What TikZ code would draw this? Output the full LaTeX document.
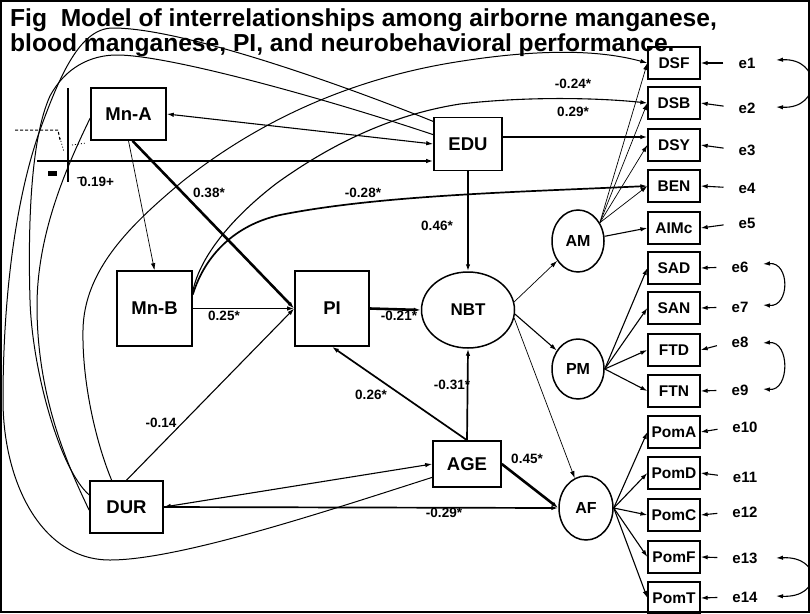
\documentclass[tikz,border=0pt]{standalone}
\usepackage{fontspec}
\setmainfont{Liberation Sans}
\usetikzlibrary{arrows.meta,shapes.geometric}
\begin{document}
\begin{tikzpicture}[x=1pt,y=-1pt,
  box/.style={draw,line width=1.6pt,inner sep=0pt,font=\fontsize{18.5}{18.5}\selectfont\bfseries},
  ind/.style={draw,line width=1.3pt,minimum width=52pt,minimum height=32pt,inner sep=0pt,font=\fontsize{15.5}{15.5}\selectfont\bfseries},
  lat/.style={draw,ellipse,line width=1.5pt,inner sep=0pt,font=\fontsize{16}{16}\selectfont\bfseries},
  coef/.style={font=\fontsize{13.5}{13.5}\selectfont\bfseries,inner sep=0pt},
  elab/.style={font=\fontsize{15}{15}\selectfont\bfseries,inner sep=1pt},
  ttl/.style={font=\fontsize{24.6}{24.6}\selectfont\bfseries,inner sep=0pt,anchor=base west},
  arr/.style={-{Latex[length=7pt,width=4.5pt]}},
  darr/.style={{Latex[length=7pt,width=4.5pt]}-{Latex[length=7pt,width=4.5pt]}},
  lwa/.style={line width=0.7pt},
  lwb/.style={line width=1.1pt},
  lwc/.style={line width=1.7pt},
  lwd/.style={line width=2.6pt},
  crv/.style={line width=1pt},
]
\useasboundingbox (0,0) rectangle (810,613);
\draw[line width=1.2pt] (1,1) rectangle (809,612);

% title
\node[ttl] (t1) at (10,27) {Fig\ \ Model of interrelationships among airborne manganese,};
\node[ttl] (t2) at (10,51) {blood manganese, PI, and neurobehavioral performance.};

% main boxes
\node[box,minimum width=75pt,minimum height=52pt] (MnA) at (128.5,114) {Mn-A};
\node[box,minimum width=68pt,minimum height=53pt] (EDU) at (468,144) {EDU};
\node[box,minimum width=75pt,minimum height=75pt] (MnB) at (154.5,308.5) {Mn-B};
\node[box,minimum width=74pt,minimum height=75pt] (PI) at (332,308.5) {PI};
\node[box,minimum width=68pt,minimum height=46pt] (AGE) at (467,464) {AGE};
\node[box,minimum width=73pt,minimum height=52pt] (DUR) at (126.5,507) {DUR};

% latent variables
\node[lat,minimum width=93pt,minimum height=76pt,font=\fontsize{17}{17}\selectfont\bfseries] (NBT) at (468,310) {NBT};
\node[lat,minimum width=52pt,minimum height=62pt] (AM) at (578,241) {AM};
\node[lat,minimum width=52pt,minimum height=60pt] (PM) at (578,369) {PM};
\node[lat,minimum width=54pt,minimum height=64pt] (AF) at (586,508) {AF};

% indicators
\node[ind] (DSF) at (674,63) {DSF};
\node[ind] (DSB) at (674,103) {DSB};
\node[ind] (DSY) at (674,145) {DSY};
\node[ind] (BEN) at (674,186) {BEN};
\node[ind] (AIMc) at (674,228) {AIMc};
\node[ind] (SAD) at (674,268) {SAD};
\node[ind] (SAN) at (674,308) {SAN};
\node[ind] (FTD) at (674,350) {FTD};
\node[ind] (FTN) at (674,391) {FTN};
\node[ind] (PomA) at (674,432) {PomA};
\node[ind] (PomD) at (674,473) {PomD};
\node[ind] (PomC) at (674,515) {PomC};
\node[ind] (PomF) at (674,557) {PomF};
\node[ind] (PomT) at (674,598) {PomT};

% error terms
\node[elab] (e1) at (747,63) {e1};
\node[elab] (e2) at (747,108) {e2};
\node[elab] (e3) at (747,150) {e3};
\node[elab] (e4) at (747,188) {e4};
\node[elab] (e5) at (747,223) {e5};
\node[elab] (e6) at (740,267) {e6};
\node[elab] (e7) at (740,307) {e7};
\node[elab] (e8) at (740,342) {e8};
\node[elab] (e9) at (740,390) {e9};
\node[elab] (e10) at (745,427) {e10};
\node[elab] (e11) at (745,477) {e11};
\node[elab] (e12) at (745,512) {e12};
\node[elab] (e13) at (745,558) {e13};
\node[elab] (e14) at (745,597) {e14};

\foreach \e/\b in {e1/DSF,e2/DSB,e3/DSY,e4/BEN,e5/AIMc,e6/SAD,e7/SAN,e8/FTD,e9/FTN,e10/PomA,e11/PomD,e12/PomC,e13/PomF,e14/PomT}
  \draw[arr,lwb,shorten <=14pt] (\e.west) -- (\b.east);

% error covariances
\coordinate (k1) at (776,60); \coordinate (k2) at (776,107);
\coordinate (k6) at (763,264); \coordinate (k7) at (763,305);
\coordinate (k8) at (763,343); \coordinate (k9) at (763,389);
\coordinate (k13) at (776,558); \coordinate (k14) at (776,596);
\draw[darr,lwb] (k1) .. controls (822,58) and (822,109) .. (k2);
\draw[darr,lwb] (k6) .. controls (790,262) and (790,307) .. (k7);
\draw[darr,lwb] (k8) .. controls (790,341) and (790,391) .. (k9);
\draw[darr,lwb] (k13) .. controls (822,556) and (822,598) .. (k14);

% measurement paths
\foreach \b in {DSF,DSB,DSY,BEN} \draw[arr,lwa] (AM.40) -- (\b.west);
\draw[arr,lwb] (AM.10) -- (AIMc.west);
\foreach \b in {SAD,SAN,FTD,FTN} \draw[arr,lwb] (PM.east) -- (\b.west);
\foreach \b in {PomA,PomD,PomC,PomF,PomT} \draw[arr,lwb] (AF.east) -- (\b.west);

% NBT to factors
\draw[arr,lwa] (NBT.10) -- (AM);
\draw[arr,lwb] (NBT.355) -- (PM);
\draw[arr,lwa] (NBT.350) -- (AF);

% structural paths
\draw[arr,lwa] (MnA.south) -- (MnB.north);
\draw[arr,lwd] ([xshift=4pt]MnA.south) -- (PI.west);
\draw[arr,lwc] (MnB.east) -- (PI.west);
\draw[arr,lwb] (DUR.north) -- (PI.west);
\draw[arr,lwd] (PI.east) -- (NBT.west);
\draw[arr,lwd] (EDU.south) -- (NBT.north);
\draw[arr,lwc] (AGE.north) -- (NBT.south);
\draw[arr,lwc] (AGE.north) -- (PI.south);
\draw[arr,lwd] (AGE.east) -- (AF.west);
\draw[arr,lwc] (DUR.east) -- (AF.west);
\draw[darr,lwb] (DUR.east) -- (AGE.west);
\draw[darr,lwb] (MnA.east) -- (EDU.west);
\draw[arr,lwc] (EDU.east |- DSY.west) ++(0,-8) -- (DSY.west |- 0,137);

% horizontal line to EDU and scan artefacts
\coordinate (hl) at (37,161);
\draw[arr,lwc] (hl) -- (hl -| EDU.west);
\draw[line width=2.2pt] (68,88) -- (68,182);
\draw[line width=1pt,dash pattern=on 3pt off 2pt] (15,130) -- (58,130) -- (60,140);
\draw[line width=0.8pt,dash pattern=on 1pt off 2pt] (60,138) -- (64,152);
\draw[line width=0.8pt,dash pattern=on 1pt off 2pt] (72,145) -- (86,143);
\fill (48,171) rectangle (57,176);
\draw[line width=1pt] (77,178) -- (84,177);

% curved paths to indicators
\draw[arr,crv] (DUR.119) .. controls (95,440) and (82,380) .. (83,330)
  .. controls (84,270) and (130,225) .. (183,181)
  .. controls (260,120) and (350,80) .. (450,63)
  .. controls (540,48) and (600,50) .. (DSF.west);
\draw[arr,lwb] (MnB.24) .. controls (200,255) and (235,215) .. (277,183)
  .. controls (330,145) and (390,115) .. (460,104)
  .. controls (530,96) and (600,98) .. (DSB.west);
\draw[arr,lwc] (MnB.20) .. controls (205,255) and (235,225) .. (280,215)
  .. controls (380,195) and (520,192) .. (BEN.west);

% covariance curves among exogenous variables
\draw[crv] (AGE.201) .. controls (330,510) and (180,560) .. (110,560)
  .. controls (40,560) and (3,480) .. (3,400)
  .. controls (3,300) and (15,200) .. (40,130)
  .. controls (60,75) and (80,28) .. (113,28)
  .. controls (180,28) and (330,80) .. (EDU.147);
\draw[crv] (DUR.162) .. controls (60,470) and (32,370) .. (30,300)
  .. controls (28,230) and (30,140) .. (50,96)
  .. controls (65,68) and (90,55) .. (117,55)
  .. controls (170,55) and (330,100) .. (EDU.165);
\draw[crv] (MnA.186) .. controls (70,160) and (37,230) .. (37,306)
  .. controls (37,400) and (70,470) .. (DUR.185);

% coefficients
\node[coef] (c1) at (97,182) {0.19+};
\node[coef] (c2) at (209,193) {0.38*};
\node[coef] (c3) at (363,193) {-0.28*};
\node[coef] (c4) at (573,84) {-0.24*};
\node[coef] (c5) at (573,112) {0.29*};
\node[coef] (c6) at (437,226) {0.46*};
\node[coef] (c7) at (224,316) {0.25*};
\node[coef] (c8) at (399,316) {-0.21*};
\node[coef] (c9) at (371,395) {0.26*};
\node[coef] (c10) at (452,385) {-0.31*};
\node[coef] (c11) at (161,423) {-0.14};
\node[coef] (c12) at (527,459) {0.45*};
\node[coef] (c13) at (444,513) {-0.29*};
\end{tikzpicture}
\end{document}
